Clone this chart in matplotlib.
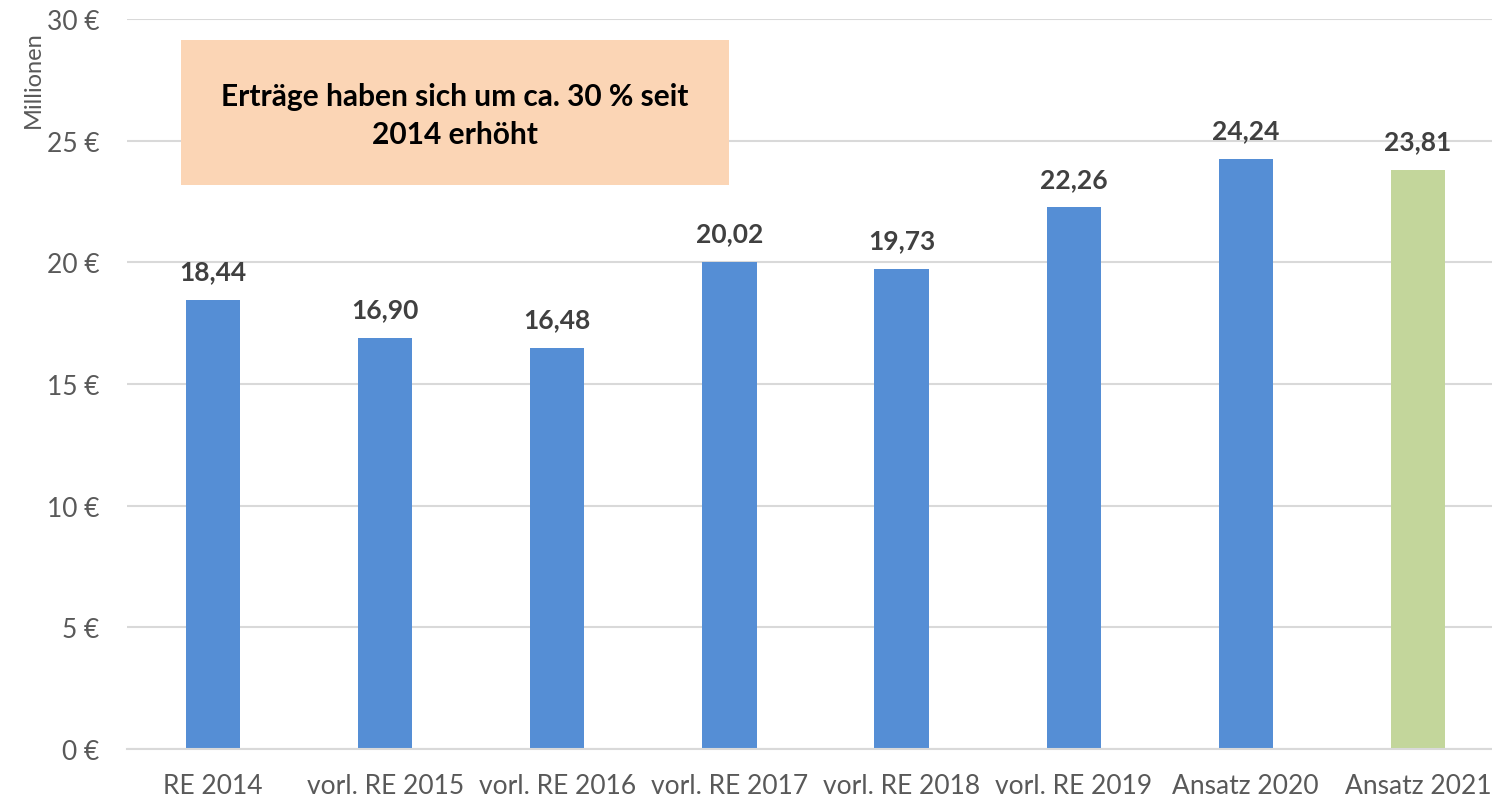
import matplotlib
matplotlib.use('Agg')
import matplotlib.pyplot as plt
from matplotlib.ticker import FuncFormatter

# Data (Erträge in Millionen Euro)
categories = ['RE 2014', 'vorl. RE 2015', 'vorl. RE 2016', 'vorl. RE 2017',
              'vorl. RE 2018', 'vorl. RE 2019', 'Ansatz 2020', 'Ansatz 2021']
values = [18.44, 16.90, 16.48, 20.02, 19.73, 22.26, 24.24, 23.81]
bar_colors = ['#558ED5'] * 7 + ['#C3D69B']
y_ticks = [0, 5, 10, 15, 20, 25, 30]
note = 'Erträge haben sich um ca. 30 % seit\n2014 erhöht'

plt.rcParams['font.family'] = ['Lato', 'DejaVu Sans']


def main():
    fig = plt.figure(figsize=(14.92, 8.03), dpi=100)
    # axes runs slightly past the right edge, like the cropped original
    ax = fig.add_axes([127 / 1492, 53 / 803, 1377 / 1492, 730 / 803])
    x = list(range(len(categories)))
    ax.bar(x, values, width=0.315, color=bar_colors, zorder=2)
    ax.set_xlim(-0.5, len(categories) - 0.5)
    ax.set_ylim(0, 30)
    ax.set_yticks(y_ticks)
    ax.yaxis.set_major_formatter(FuncFormatter(lambda v, p: '%d €' % v))
    ax.set_xticks(x)
    ax.set_xticklabels(categories)
    ax.tick_params(axis='both', length=0, labelsize=19, colors='#595959')
    ax.tick_params(axis='x', pad=17)
    ax.tick_params(axis='y', pad=20)
    ax.grid(axis='y', color='#D9D9D9', linewidth=1.5, zorder=0)
    for s in ['top', 'right', 'left']:
        ax.spines[s].set_visible(False)
    ax.spines['bottom'].set_color('#D9D9D9')
    ax.spines['bottom'].set_linewidth(1.5)

    for xi, v in zip(x, values):
        ax.annotate(('%.2f' % v).replace('.', ','), (xi, v),
                    xytext=(0, 12), textcoords='offset points',
                    ha='center', va='bottom', fontsize=19,
                    fontweight='bold', color='#404040')

    fig.text(33 / 1492, 1 - 80 / 803, 'Millionen', rotation=90, ha='center',
             va='center', fontsize=17, color='#595959')

    # Note box
    fig.patches.append(plt.Rectangle((181 / 1492, 1 - 186 / 803),
                                     548 / 1492, 145 / 803,
                                     transform=fig.transFigure,
                                     facecolor='#FBD5B5', edgecolor='none',
                                     zorder=3))
    fig.text(455 / 1492, 1 - 116 / 803, note, ha='center', va='center',
             fontsize=21.5, fontweight='bold', color='black',
             linespacing=1.4, zorder=4)

    fig.savefig('out.png', dpi=100)


if __name__ == '__main__':
    main()
